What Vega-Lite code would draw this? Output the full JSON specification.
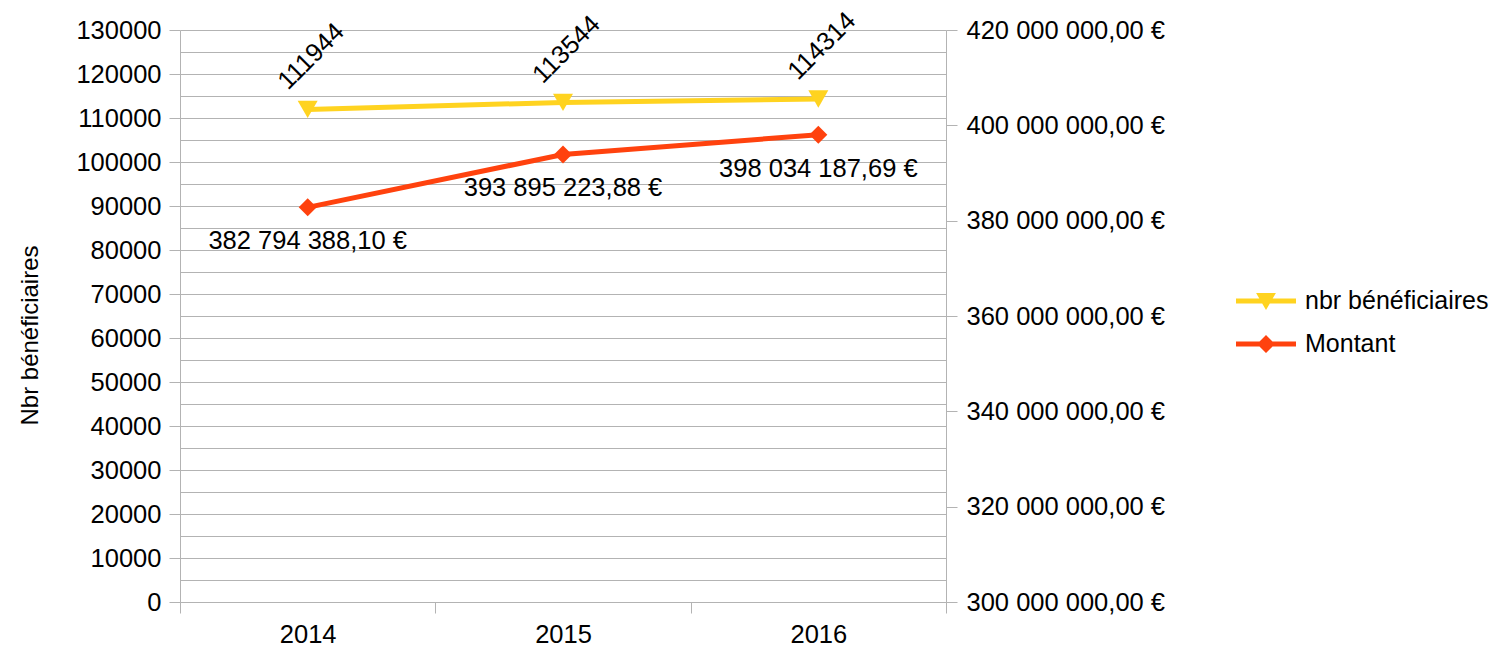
{
  "$schema": "https://vega.github.io/schema/vega-lite/v6.json",
  "width": 766,
  "height": 572,
  "autosize": {"type": "none"},
  "padding": {"left": 180, "top": 30, "right": 562, "bottom": 48},
  "config": {
    "font": "Liberation Sans",
    "view": {"stroke": null},
    "locale": {"number": {"decimal": ",", "thousands": " ", "grouping": [3], "currency": ["", " €"]}},
    "axis": {
      "labelFont": "Liberation Sans",
      "labelFontSize": 25.5,
      "labelColor": "#000000",
      "labelLimit": 0,
      "titleFont": "Liberation Sans",
      "titleFontSize": 24,
      "titleFontWeight": "normal",
      "titleColor": "#000000",
      "domainColor": "#b3b3b3",
      "tickColor": "#b3b3b3",
      "gridColor": "#b3b3b3",
      "tickSize": 11
    }
  },
  "data": {
    "values": [
      {"annee": "2014", "serie": "nbr bénéficiaires", "valeur": 111944},
      {"annee": "2015", "serie": "nbr bénéficiaires", "valeur": 113544},
      {"annee": "2016", "serie": "nbr bénéficiaires", "valeur": 114314},
      {"annee": "2014", "serie": "Montant", "valeur": 382794388.10},
      {"annee": "2015", "serie": "Montant", "valeur": 393895223.88},
      {"annee": "2016", "serie": "Montant", "valeur": 398034187.69}
    ]
  },
  "encoding": {
    "x": {
      "field": "annee",
      "type": "ordinal",
      "scale": {"type": "band", "paddingInner": 0, "paddingOuter": 0},
      "axis": {
        "title": null,
        "labelAngle": 0,
        "tickBand": "extent",
        "grid": false,
        "labelPadding": 9
      }
    }
  },
  "layer": [
    {
      "transform": [{"filter": "datum.serie === 'nbr bénéficiaires'"}],
      "mark": {"type": "line", "strokeWidth": 5},
      "encoding": {
        "y": {
          "field": "valeur",
          "type": "quantitative",
          "scale": {"domain": [0, 130000], "nice": false, "zero": true},
          "axis": {
            "orient": "left",
            "title": "Nbr bénéficiaires",
            "titleX": -150,
            "titleY": 305,
            "titleAngle": -90,
            "titleBaseline": "middle",
            "titleAlign": "center",
            "values": [0, 5000, 10000, 15000, 20000, 25000, 30000, 35000, 40000, 45000, 50000, 55000, 60000, 65000, 70000, 75000, 80000, 85000, 90000, 95000, 100000, 105000, 110000, 115000, 120000, 125000, 130000],
            "format": "d",
            "labelExpr": "datum.value % 10000 === 0 ? datum.label : ''",
            "tickOpacity": {"condition": {"test": "datum.value % 10000 === 0", "value": 1}, "value": 0},
            "labelPadding": 8,
            "grid": true
          }
        },
        "color": {
          "field": "serie",
          "type": "nominal",
          "scale": {"domain": ["nbr bénéficiaires", "Montant"], "range": ["#ffd320", "#ff420e"]},
          "legend": {
            "title": null,
            "orient": "none",
            "legendX": 1056,
            "legendY": 241,
            "padding": 0,
            "labelFont": "Liberation Sans",
            "labelFontSize": 25,
            "labelColor": "#000000",
            "labelLimit": 0,
            "symbolSize": 3600,
            "rowPadding": -19,
            "labelOffset": 9,
            "symbolStrokeWidth": 0,
            "encode": {
              "symbols": {
                "update": {
                  "shape": {"signal": "datum.value === 'Montant' ? 'M-1,-0.085H1V0.085H-1Z M0,-0.3L0.3,0L0,0.3L-0.3,0Z' : 'M-1,-0.085H1V0.085H-1Z M-0.33,-0.27L0.33,-0.27L0,0.3Z'"},
                  "fill": {"signal": "datum.value === 'Montant' ? '#ff420e' : '#ffd320'"},
                  "fillOpacity": {"value": 1},
                  "strokeWidth": {"value": 0}
                }
              }
            }
          }
        }
      }
    },
    {
      "transform": [{"filter": "datum.serie === 'nbr bénéficiaires'"}],
      "mark": {"type": "point", "shape": "triangle-down", "filled": true, "opacity": 1, "size": 400, "color": "#ffd320"},
      "encoding": {
        "y": {"field": "valeur", "type": "quantitative", "scale": {"domain": [0, 130000], "nice": false}, "axis": null}
      }
    },
    {
      "transform": [{"filter": "datum.serie === 'nbr bénéficiaires'"}],
      "mark": {"type": "text", "angle": -45, "align": "center", "baseline": "middle", "dx": 40, "dy": -35, "fontSize": 25.5, "font": "Liberation Sans", "color": "#000000"},
      "encoding": {
        "y": {"field": "valeur", "type": "quantitative", "scale": {"domain": [0, 130000], "nice": false}, "axis": null},
        "text": {"field": "valeur", "type": "quantitative", "format": "d"}
      }
    },
    {
      "transform": [{"filter": "datum.serie === 'Montant'"}],
      "mark": {"type": "line", "strokeWidth": 5},
      "encoding": {
        "y": {
          "field": "valeur",
          "type": "quantitative",
          "scale": {"domain": [300000000, 420000000], "nice": false, "zero": false},
          "axis": {
            "orient": "right",
            "title": null,
            "values": [300000000, 320000000, 340000000, 360000000, 380000000, 400000000, 420000000],
            "format": "$,.2f",
            "labelPadding": 9,
            "grid": false
          }
        },
        "color": {"field": "serie", "type": "nominal"}
      }
    },
    {
      "transform": [{"filter": "datum.serie === 'Montant'"}],
      "mark": {"type": "point", "shape": "diamond", "filled": true, "opacity": 1, "size": 324, "color": "#ff420e"},
      "encoding": {
        "y": {"field": "valeur", "type": "quantitative", "scale": {"domain": [300000000, 420000000], "nice": false, "zero": false}, "axis": null}
      }
    },
    {
      "transform": [{"filter": "datum.serie === 'Montant'"}],
      "mark": {"type": "text", "align": "center", "baseline": "middle", "dy": 34, "fontSize": 25.5, "font": "Liberation Sans", "color": "#000000"},
      "encoding": {
        "y": {"field": "valeur", "type": "quantitative", "scale": {"domain": [300000000, 420000000], "nice": false, "zero": false}, "axis": null},
        "text": {"field": "valeur", "type": "quantitative", "format": "$,.2f"}
      }
    }
  ],
  "resolve": {"scale": {"y": "independent"}}
}
